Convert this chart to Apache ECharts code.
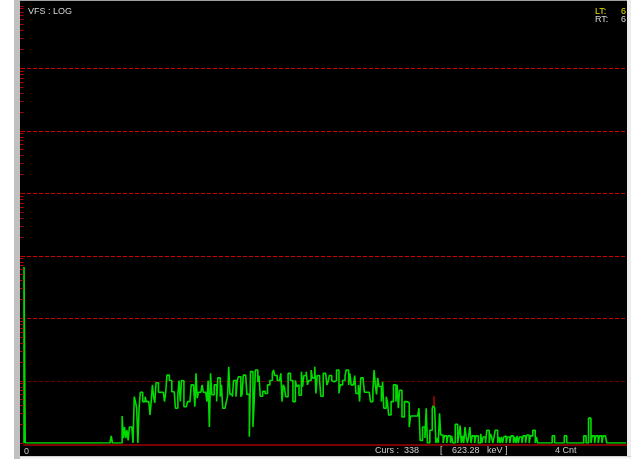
<!DOCTYPE html>
<html><head><meta charset="utf-8">
<script src="https://cdn.jsdelivr.net/npm/echarts/dist/echarts.min.js"></script>
<style>html,body{margin:0;padding:0;background:#fff;overflow:hidden;}#c{width:631px;height:459px;}</style>
</head><body><div id="c"></div>
<script>
// Counts per channel (log display), channels 0..497
const spectrum = [
655,0,0,0,0,0,0,0,0,0,
0,0,0,0,0,0,0,0,0,0,
0,0,0,0,0,0,0,0,0,0,
0,0,0,0,0,0,0,0,0,0,
0,0,0,0,0,0,0,0,0,0,
0,0,0,0,0,0,0,0,0,0,
0,0,0,0,0,0,0,0,0,0,
0,0,1.3,0,0,0,0,0,0,0,
0,2.7,1.2,1.8,1.2,1.6,1.1,1.8,1.8,1.8,
0,5.5,4.6,3.6,0,3.6,6.5,6.5,4.6,4.6,
5.5,4.6,4.6,4.6,2.8,4.6,8.5,5.5,4.4,9.2,
9.2,6.5,6.5,6.5,6.5,6.5,4.6,6.5,12.2,12.2,
10,10,6.6,6.6,6.6,3.6,3.6,6,10,4.6,
10,9.9,3.8,3.8,3.8,4.6,4.6,4.6,8.5,8.5,
8.5,3.8,13,5.2,6.5,6.5,6.5,8.5,6.5,6.5,
6.5,4.6,10,1.8,13,5.9,5.9,8.5,8.5,4.6,
11,11,5.5,8.5,3.6,3.6,3.6,4.6,5.5,16.6,
6,6,5.5,10,10,5.5,10,11.5,11.5,5.5,
6,12.2,12.2,12.2,6,6,1.26,14,13.8,1.8,
4.6,14.7,14.7,9.5,12,5.6,5.6,6.7,6.7,6.2,
6.2,8.5,8.5,10,10,13,14.7,12,12,10,
10,10,13,4.6,8.5,7.8,5.5,5.5,13,13,
10,10,4.6,4.6,10,8,8.5,5.8,5.8,13.8,
8,12,12,13.8,8.5,10,10,14.7,11,11,
16.6,6.2,12,12,10,5.6,5.6,13,13,13,
8.5,9.5,12,12,10,9.5,9.5,10,14.7,14.7,
6.2,8.5,8.5,10,10,12,14.7,14.7,8.5,13,
8.5,8.5,8,12,6.2,6.2,8.5,4.6,11,11,
10,6.5,6.5,6.5,6.5,6.7,4.6,4.6,7,14.7,
8.5,6,11,8,8,4.6,9.5,3.6,3.6,5.5,
4.6,2.8,2.8,4.6,4.6,8.5,8.5,4.6,8.5,3.6,
7,7,2.6,2.6,4.6,4.6,4.4,4.4,1.8,2.7,
2.7,2.7,2.7,2.7,2.7,2.7,3.6,1.1,1.1,1.8,
1.8,1.2,3.6,0,0,1.6,1.6,3.6,4,3.6,
0,1.2,0,3,1.34,1.34,0,1.3,1.3,0,
1.3,1.3,0,1.3,0,0,2,2,0,1.34,
1.9,0,1.3,0,1.8,1.25,0,1.25,1.8,0,
1.3,1.3,0,1.3,1.3,0,0,1.4,0,1.25,
1.25,0,1.6,1.6,0,1.4,1.25,0,1.25,1.6,
1.6,0,1.25,0,1.25,0,1.25,1.3,0,1.25,
1.25,0,1.3,1.3,0,1.25,0,1.3,0,1.25,
1.25,0,1.3,1.3,0,1.34,1.34,0,1.3,1.3,
1.6,1.6,0,1.25,0,0,0,0,0,0,
0,0,0,0,0,0,1.3,1.3,0,0,
0,0,0,0,0,0,1.3,1.3,0,0,
0,0,0,0,0,0,0,0,0,0,
0,0,1.3,1.3,0,0,2.5,2.5,0,1.3,
1.3,0,1.3,1.3,0,1.3,1.3,0,1.3,1.3,
1.3,0,0,0,0,0,0,0,0,0,
0,0,0,0,0,0,0,0
];
const gridDecades = [10, 100, 1000, 10000, 100000, 1000000];
const gridColors  = ['#6a0000', '#d00000', '#d00000', '#d00000', '#d00000', '#d00000'];
const tickMantissas = [1, 2, 3, 4, 5, 6, 7, 8, 9];
const tickDecades = [1, 10, 100, 1000, 10000, 100000, 1000000];
const cursorChannel = 338;
const cursorEnergy = '623.28';
const cursorCount = 4;
const liveTime = '6';
const realTime = '6';
const modeLabel = 'VFS : LOG';

const tickValues = [];
tickDecades.forEach(d => tickMantissas.forEach(m => tickValues.push(m * d)));
tickValues.push(10000000);

const lineData = [[0, 1]].concat(spectrum.map((v, i) => [i, Math.max(v, 1)]));

const FONT = '9px "Liberation Sans", Arial, sans-serif';
const chart = echarts.init(document.getElementById('c'), null, {renderer: 'canvas'});
chart.setOption({
  animation: false,
  backgroundColor: '#000000',
  grid: {left: 24, right: 3.7, top: 5.5, bottom: 16, containLabel: false},
  xAxis: {
    type: 'value', min: 0, max: spectrum.length, interval: spectrum.length,
    offset: 1.5,
    axisLine: {show: true, onZero: false, lineStyle: {color: '#7a0000', width: 2}},
    axisTick: {show: false},
    splitLine: {show: false},
    axisLabel: {show: true, showMaxLabel: false, color: '#c8c8c8', fontSize: 9,
      fontFamily: '"Liberation Sans", Arial, sans-serif', align: 'left', margin: 3}
  },
  yAxis: {
    type: 'log', logBase: 10, min: 1, max: 10000000,
    axisLine: {show: false}, axisTick: {show: false}, axisLabel: {show: false},
    splitLine: {show: false}
  },
  series: [
    {
      type: 'custom', data: gridDecades.map((v, i) => [0, v, i]), z: 1, clip: false, silent: true,
      renderItem: (params, api) => {
        const p0 = api.coord([0, api.value(1)]);
        const p1 = api.coord([spectrum.length, api.value(1)]);
        const y = Math.round(p0[1]) + 0.5;
        return {type: 'line', shape: {x1: p0[0] - 3, y1: y, x2: p1[0], y2: y},
          style: {stroke: gridColors[api.value(2)], lineWidth: 1, lineDash: [4, 2]}};
      }
    },
    {
      type: 'line', step: 'end', data: lineData, symbol: 'none', z: 3,
      lineStyle: {color: '#00dc00', width: 1.6}
    },
    {
      type: 'custom', data: tickValues.map(v => [0, v]), z: 4, clip: false, silent: true,
      renderItem: (params, api) => {
        const p = api.coord([api.value(0), api.value(1)]);
        return {type: 'line', shape: {x1: p[0] - 4, y1: Math.round(p[1]) + 0.5, x2: p[0] - 0.5, y2: Math.round(p[1]) + 0.5},
          style: {stroke: '#b00000', lineWidth: 1}};
      }
    },
    {
      type: 'custom', data: [[cursorChannel, cursorCount]], z: 5, clip: false, silent: true,
      renderItem: (params, api) => {
        const p = api.coord([api.value(0) + 0.5, api.value(1)]);
        return {type: 'line', shape: {x1: p[0], y1: p[1] - 9, x2: p[0], y2: p[1] + 1},
          style: {stroke: '#b00000', lineWidth: 1.6}};
      }
    }
  ],
  graphic: [
    {type: 'rect', z: 100, shape: {x: 0, y: 0, width: 14, height: 459}, style: {fill: '#ffffff'}},
    {type: 'rect', z: 100, shape: {x: 14, y: 0, width: 6, height: 459}, style: {fill: '#c0c0c0'}},
    {type: 'rect', z: 100, shape: {x: 20, y: 0, width: 611, height: 1}, style: {fill: '#a0a0a0'}},
    {type: 'rect', z: 100, shape: {x: 627, y: 0, width: 4, height: 459}, style: {fill: '#ececec'}},
    {type: 'rect', z: 100, shape: {x: 20, y: 456, width: 611, height: 1}, style: {fill: '#d0d0d0'}},
    {type: 'rect', z: 100, shape: {x: 20, y: 457, width: 611, height: 2}, style: {fill: '#f4f4f4'}},
    {type: 'text', z: 101, style: {text: modeLabel, x: 28, y: 12, fill: '#d8d8d8', font: FONT, verticalAlign: 'middle'}},
    {type: 'text', z: 101, style: {text: 'LT:', x: 595, y: 12, fill: '#e0e000', font: FONT, verticalAlign: 'middle'}},
    {type: 'text', z: 101, style: {text: liveTime, x: 621, y: 12, fill: '#e0e000', font: FONT, verticalAlign: 'middle'}},
    {type: 'text', z: 101, style: {text: 'RT:', x: 595, y: 19.5, fill: '#d8d8d8', font: FONT, verticalAlign: 'middle'}},
    {type: 'text', z: 101, style: {text: realTime, x: 621, y: 19.5, fill: '#d8d8d8', font: FONT, verticalAlign: 'middle'}},
    {type: 'text', z: 101, style: {text: 'Curs :  ' + cursorChannel, x: 375, y: 451, fill: '#d0d0d0', font: FONT, verticalAlign: 'middle'}},
    {type: 'text', z: 101, style: {text: '[', x: 440, y: 451, fill: '#d0d0d0', font: FONT, verticalAlign: 'middle'}},
    {type: 'text', z: 101, style: {text: cursorEnergy, x: 452, y: 451, fill: '#d0d0d0', font: FONT, verticalAlign: 'middle'}},
    {type: 'text', z: 101, style: {text: 'keV ]', x: 487, y: 451, fill: '#d0d0d0', font: FONT, verticalAlign: 'middle'}},
    {type: 'text', z: 101, style: {text: cursorCount + ' Cnt', x: 555, y: 451, fill: '#d0d0d0', font: FONT, verticalAlign: 'middle'}}
  ]
});
</script>
</body></html>
